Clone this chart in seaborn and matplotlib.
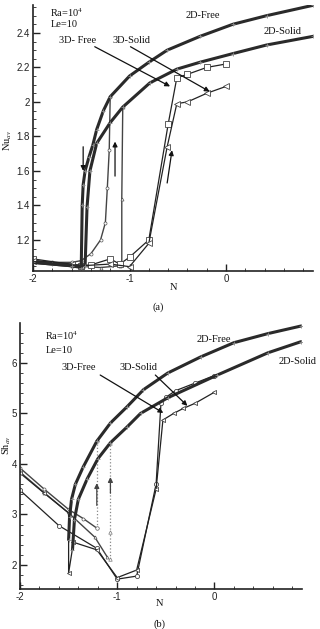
import matplotlib
matplotlib.use("Agg")
import matplotlib.pyplot as plt
import seaborn as sns
from matplotlib.ticker import MultipleLocator, FuncFormatter

# ---------------- data: panel (a) Nu_av ----------------
nu_2d_free_up_N = [0.90, 0.42, 0.07, -0.27, -0.61, -0.80, -1.00, -1.20, -1.27, -1.34, -1.38, -1.42, -1.46, -1.48, -1.49, -1.50, -1.60, -1.80, -2.00]
nu_2d_free_up = [2.56, 2.50, 2.45, 2.38, 2.30, 2.23, 2.15, 2.03, 1.95, 1.84, 1.75, 1.68, 1.60, 1.52, 1.40, 1.04, 1.05, 1.06, 1.07]
nu_2d_free_fwd_N = [-2.00, -1.80, -1.60, -1.50, -1.40, -1.30, -1.25, -1.23, -1.21, -1.20]
nu_2d_free_fwd = [1.08, 1.07, 1.07, 1.08, 1.12, 1.20, 1.30, 1.50, 1.72, 2.03]
nu_2d_solid_up_N = [0.90, 0.42, 0.07, -0.27, -0.51, -0.79, -1.07, -1.20, -1.34, -1.41, -1.44, -1.46, -1.60, -2.00]
nu_2d_solid_up = [2.38, 2.33, 2.28, 2.23, 2.19, 2.11, 1.97, 1.88, 1.76, 1.60, 1.39, 1.05, 1.05, 1.07]
nu_2d_solid_fwd_N = [-2.00, -1.60, -1.30, -1.10, -1.08, -1.08, -1.07]
nu_2d_solid_fwd = [1.08, 1.05, 1.04, 1.05, 1.06, 1.44, 1.97]
nu_3d_free_N = [-2.00, -1.50, -1.40, -1.20, -1.10, -1.00, -0.80, -0.60, -0.51, -0.40, -0.20, 0.00]
nu_3d_free = [1.09, 1.05, 1.055, 1.09, 1.06, 1.10, 1.20, 1.87, 2.14, 2.16, 2.20, 2.22]
nu_3d_solid_N = [-2.00, -1.60, -1.50, -1.20, -1.00, -0.80, -0.61, -0.51, -0.40, -0.20, 0.00]
nu_3d_solid = [1.08, 1.06, 1.05, 1.06, 1.045, 1.18, 1.74, 1.99, 2.00, 2.05, 2.09]

# ---------------- data: panel (b) Sh_av ----------------
sh_2d_free_up_N = [0.89, 0.55, 0.20, -0.14, -0.48, -0.73, -0.90, -1.07, -1.21, -1.35, -1.43, -1.47, -1.49, -1.50]
sh_2d_free_up = [6.73, 6.58, 6.40, 6.12, 5.80, 5.47, 5.13, 4.81, 4.45, 3.94, 3.60, 3.30, 2.95, 2.50]
sh_2d_free_fwd_N = [-2.00, -1.75, -1.50, -1.35, -1.21]
sh_2d_free_fwd = [3.92, 3.50, 3.10, 2.92, 2.73]
sh_2d_free_jump_N = [-1.21, -1.21]
sh_2d_free_jump = [2.73, 4.45]
sh_2d_solid_up_N = [0.89, 0.55, 0.03, -0.48, -0.76, -0.90, -1.07, -1.20, -1.31, -1.40, -1.44, -1.46]
sh_2d_solid_up = [6.42, 6.20, 5.76, 5.31, 5.00, 4.73, 4.42, 4.10, 3.70, 3.30, 2.90, 2.30]
sh_2d_solid_fwd_N = [-2.00, -1.75, -1.50, -1.23, -1.10]
sh_2d_solid_fwd = [3.84, 3.43, 3.03, 2.55, 2.15]
sh_2d_solid_jump_N = [-1.07, -1.07, -1.07]
sh_2d_solid_jump = [2.12, 2.65, 4.42]
sh_3d_free_N = [-2.00, -1.60, -1.21, -1.00, -0.80, -0.60, -0.55, -0.50, -0.40, -0.20, 0.00]
sh_3d_free = [3.48, 2.78, 2.33, 1.72, 1.78, 3.60, 5.20, 5.32, 5.45, 5.60, 5.75]
sh_3d_solid_N = [-2.00, -1.75, -1.50, -1.50, -1.45, -1.21, -1.00, -0.80, -0.60, -0.53, -0.42, -0.32, -0.20, 0.00]
sh_3d_solid = [3.82, 3.42, 3.03, 1.84, 2.45, 2.30, 1.75, 1.90, 3.50, 4.87, 5.00, 5.10, 5.20, 5.42]

x_ticks = [-2, -1, 0]

sns.set_style("ticks")
plt.rcParams['font.family'] = ['Liberation Sans', 'DejaVu Sans']
plt.rcParams['axes.unicode_minus'] = False
plt.rcParams['mathtext.fontset'] = 'stix'

fig = plt.figure(figsize=(3.2, 6.29), dpi=100)
ax1 = fig.add_axes([0.103, 0.5692, 0.875, 0.4229])
ax2 = fig.add_axes([0.0625, 0.0636, 0.881, 0.4229])

SERIF = ['Liberation Serif', 'DejaVu Serif']


def line(ax, x, y, **kw):
    sns.lineplot(x=x, y=y, sort=False, estimator=None, ax=ax, **kw)


thick = dict(color='#2a2a2a', lw=2.2, marker='+', markersize=3, markeredgecolor='#888', markeredgewidth=0.6)
fwd = dict(color='#444', lw=1.0, marker='o', markersize=2.2, markerfacecolor='white', markeredgecolor='#555', markeredgewidth=0.5)
thin3d_s = dict(color='#222', lw=0.9, marker='s', markersize=3.8, markerfacecolor='white', markeredgecolor='#444', markeredgewidth=0.6)
thin3d_t = dict(color='#222', lw=0.9, marker='<', markersize=3.8, markerfacecolor='white', markeredgecolor='#444', markeredgewidth=0.6)

# ---- panel (a)
line(ax1, nu_2d_free_fwd_N, nu_2d_free_fwd, **fwd)
line(ax1, nu_2d_solid_fwd_N, nu_2d_solid_fwd, **{**fwd, 'marker': '^'})
line(ax1, nu_3d_free_N, nu_3d_free, **thin3d_s)
line(ax1, nu_3d_solid_N, nu_3d_solid, **thin3d_t)
line(ax1, nu_2d_free_up_N, nu_2d_free_up, **thick)
line(ax1, nu_2d_solid_up_N, nu_2d_solid_up, **thick)

# ---- panel (b)
line(ax2, sh_2d_free_fwd_N, sh_2d_free_fwd, **fwd)
line(ax2, sh_2d_solid_fwd_N, sh_2d_solid_fwd, **{**fwd, 'marker': '^'})
line(ax2, sh_2d_free_jump_N, sh_2d_free_jump, color='#888', lw=0.9, ls=':', marker='o', markersize=2.5,
     markerfacecolor='white', markeredgecolor='#777', markeredgewidth=0.5)
line(ax2, sh_2d_solid_jump_N, sh_2d_solid_jump, color='#888', lw=0.9, ls=':', marker='^', markersize=2.5,
     markerfacecolor='white', markeredgecolor='#777', markeredgewidth=0.5)
line(ax2, sh_3d_free_N, sh_3d_free, **{**thin3d_s, 'marker': 'o', 'markersize': 3})
line(ax2, sh_3d_solid_N, sh_3d_solid, **{**thin3d_t, 'marker': '<', 'markersize': 3})
line(ax2, sh_2d_free_up_N, sh_2d_free_up, **thick)
line(ax2, sh_2d_solid_up_N, sh_2d_solid_up, **thick)

fmt = FuncFormatter(lambda v, p: ('%g' % round(v, 3)))
for ax, ylim, ymaj, ymin in [(ax1, (1.02, 2.562), 0.2, 0.05), (ax2, (1.525, 6.79), 1.0, 0.2)]:
    ax.set_xlim(-2, 0.9)
    ax.set_ylim(*ylim)
    ax.set_xticks(x_ticks)
    ax.xaxis.set_minor_locator(MultipleLocator(0.2))
    ax.yaxis.set_major_locator(MultipleLocator(ymaj))
    ax.yaxis.set_minor_locator(MultipleLocator(ymin))
    ax.xaxis.set_major_formatter(fmt)
    ax.yaxis.set_major_formatter(fmt)
    ax.tick_params(which='major', direction='in', length=5, width=1.0, labelsize=7, colors='#222', pad=2)
    ax.tick_params(which='minor', direction='in', length=2.5, width=0.6, colors='#222')
    sns.despine(ax=ax)
    for s in ('left', 'bottom'):
        ax.spines[s].set_linewidth(1.2)
        ax.spines[s].set_color('#222')
    ax.set_xlabel('')
    ax.set_ylabel('')

tk = dict(fontsize=7.5, family=SERIF, color='#111')
arr = dict(arrowstyle='-|>', lw=0.9, color='#111', mutation_scale=7, shrinkA=0, shrinkB=0)

# annotations (a)
ax1.text(-1.82, 2.52, 'Ra=10$^{4}$', ha='left', va='center', **tk)
ax1.text(-1.82, 2.446, 'Le=10', ha='left', va='center', **tk)
ax1.text(-0.24, 2.50, '2D-Free', ha='center', va='center', **tk)
ax1.text(0.58, 2.41, '2D-Solid', ha='center', va='center', **tk)
ax1.text(-1.54, 2.354, '3D- Free', ha='center', va='center', **tk)
ax1.text(-0.98, 2.354, '3D-Solid', ha='center', va='center', **tk)
ax1.annotate('', xy=(-0.58, 2.09), xytext=(-1.36, 2.32), arrowprops=arr)
ax1.annotate('', xy=(-0.17, 2.06), xytext=(-0.99, 2.32), arrowprops=arr)
ax1.annotate('', xy=(-1.48, 1.60), xytext=(-1.48, 1.74), arrowprops=arr)
ax1.annotate('', xy=(-1.15, 1.77), xytext=(-1.15, 1.57), arrowprops=arr)
ax1.annotate('', xy=(-0.56, 1.72), xytext=(-0.61, 1.53), arrowprops=arr)

# annotations (b)
ax2.text(-1.74, 6.55, 'Ra=10$^{4}$', ha='left', va='center', **tk)
ax2.text(-1.74, 6.24, 'Le=10', ha='left', va='center', **tk)
ax2.text(-0.01, 6.46, '2D-Free', ha='center', va='center', **tk)
ax2.text(0.86, 6.02, '2D-Solid', ha='center', va='center', clip_on=False, **tk)
ax2.text(-1.40, 5.90, '3D-Free', ha='center', va='center', **tk)
ax2.text(-0.78, 5.90, '3D-Solid', ha='center', va='center', **tk)
ax2.annotate('', xy=(-0.526, 5.01), xytext=(-1.175, 5.76), arrowprops=arr)
ax2.annotate('', xy=(-0.278, 5.15), xytext=(-0.608, 5.76), arrowprops=arr)
ax2.annotate('', xy=(-1.21, 3.62), xytext=(-1.21, 3.18), arrowprops={**arr, 'color': '#444'})
ax2.annotate('', xy=(-1.07, 3.74), xytext=(-1.07, 3.42), arrowprops={**arr, 'color': '#444'})

# axis labels and captions
fig.text(173 / 320, 1 - 287 / 629, 'N', ha='center', va='center', **tk)
fig.text(158 / 320, 1 - 307 / 629, '(a)', ha='center', va='center', **tk)
fig.text(160 / 320, 1 - 603 / 629, 'N', ha='center', va='center', **tk)
fig.text(160 / 320, 1 - 624 / 629, '(b)', ha='center', va='center', **tk)
fig.text(8 / 320, 1 - 140 / 629, 'Nu$_{av}$', rotation=90, ha='center', va='center', **tk)
fig.text(6.5 / 320, 1 - 445 / 629, 'Sh$_{av}$', rotation=90, ha='center', va='center', **tk)

fig.savefig('out.png', dpi=100)
